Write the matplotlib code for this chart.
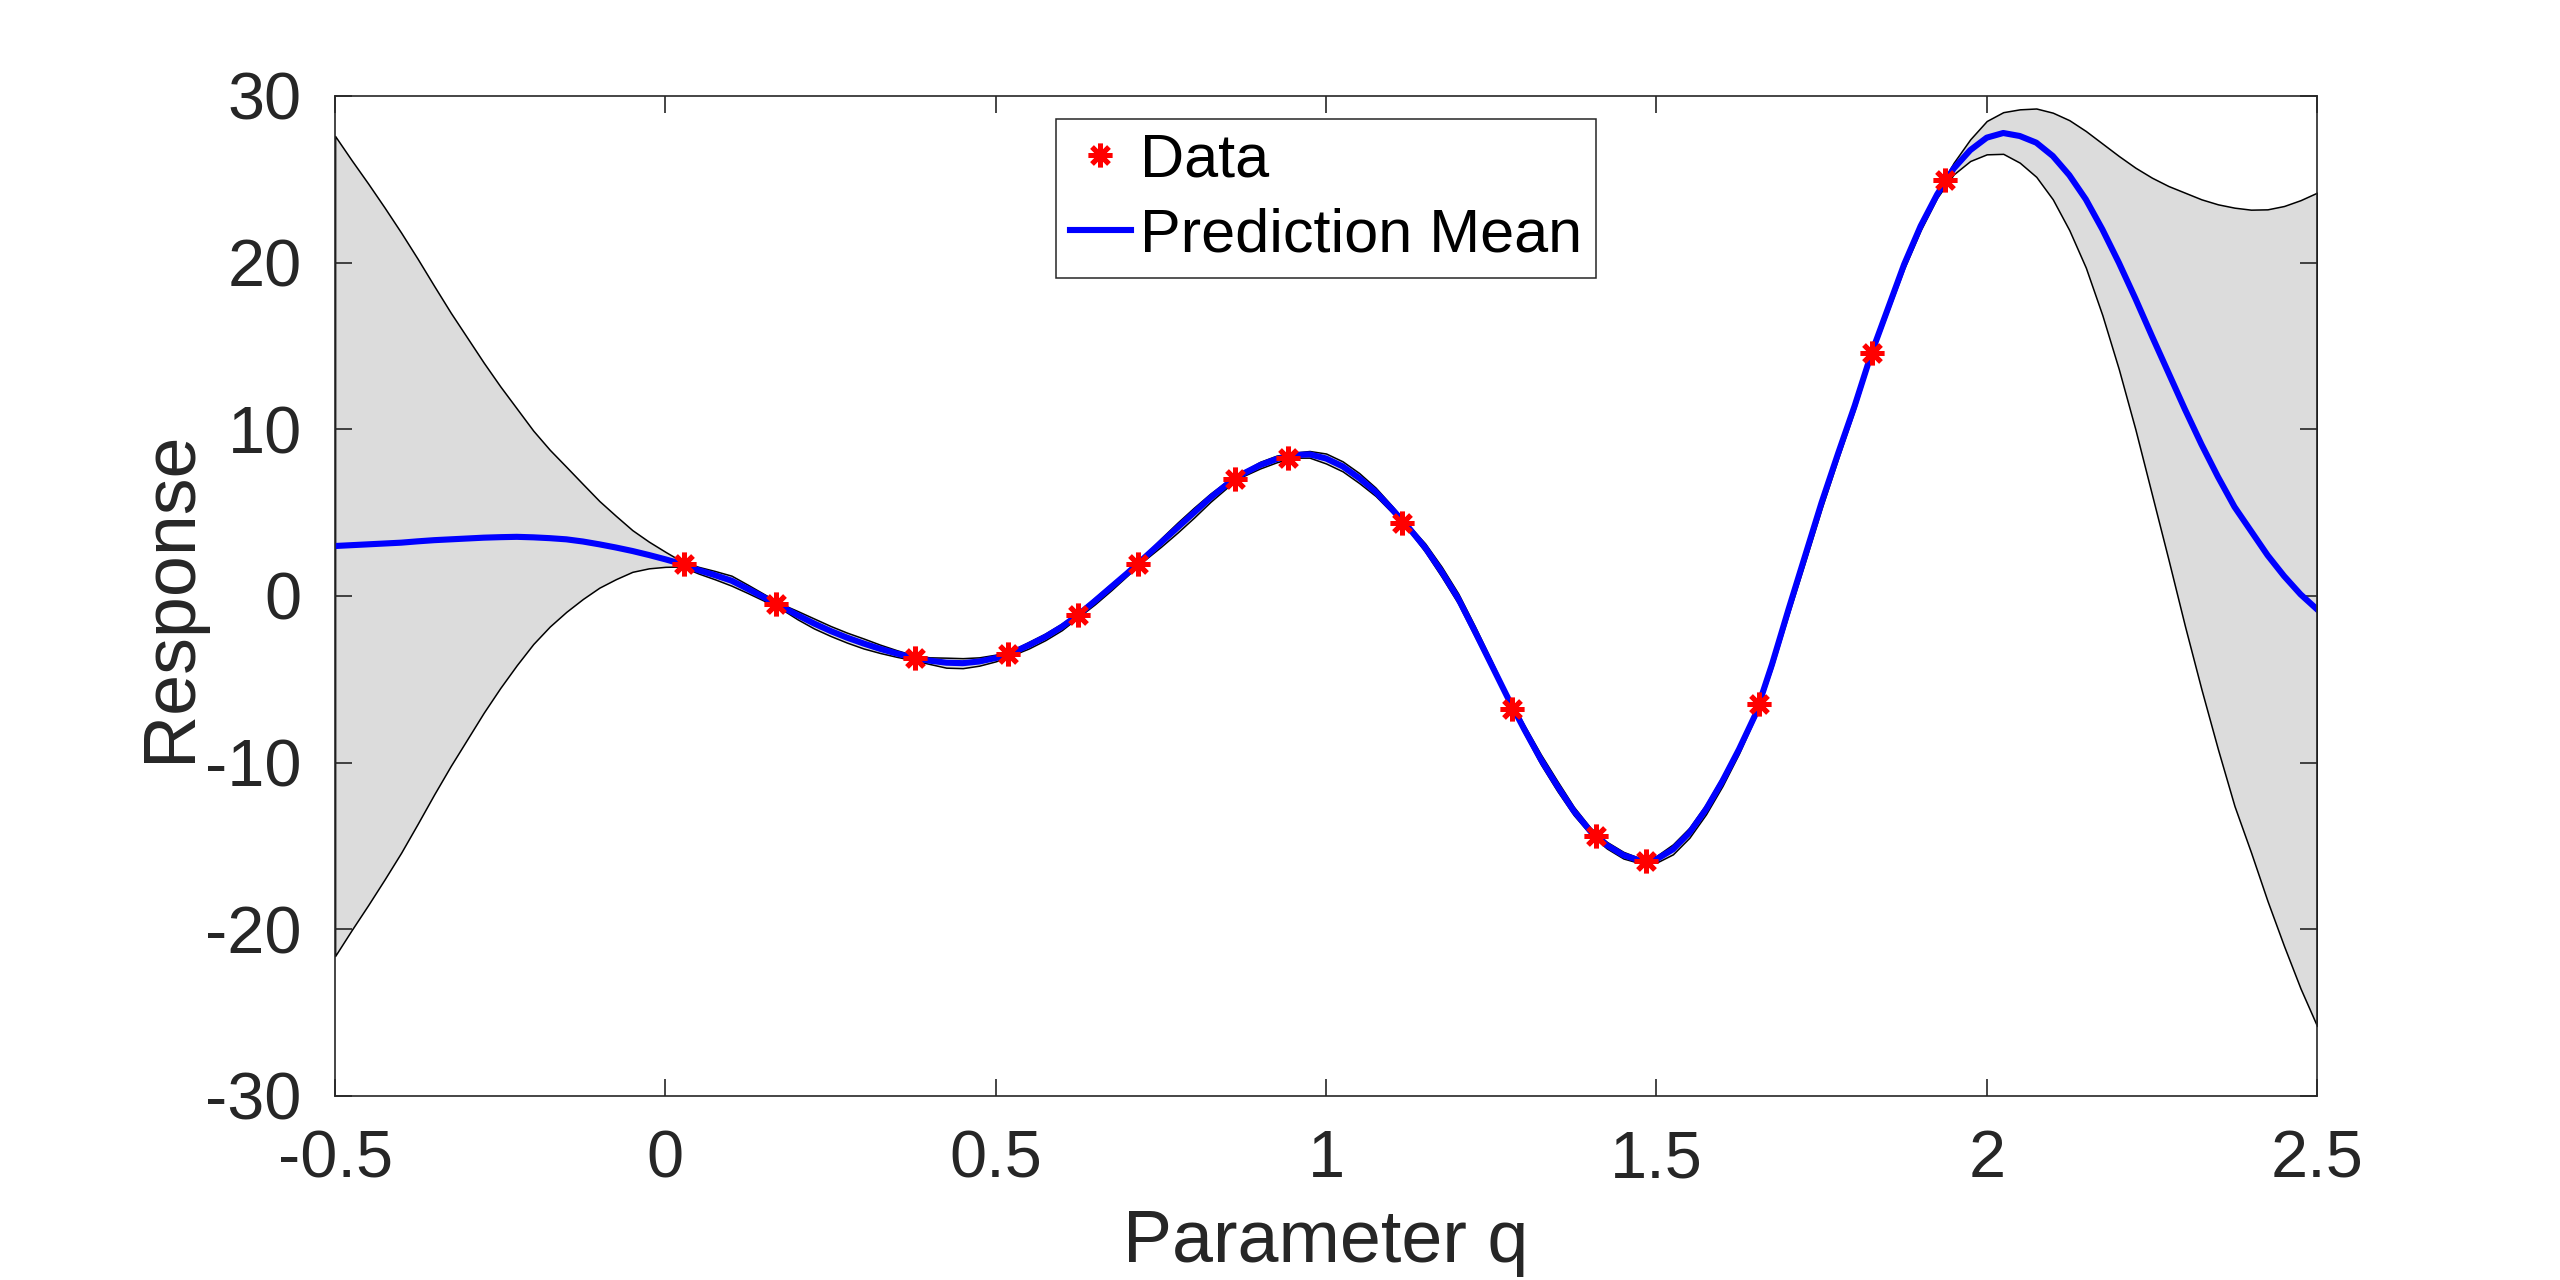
import numpy as np
import matplotlib
matplotlib.use('Agg')
import matplotlib.pyplot as plt

plt.rcParams['font.family'] = ['Liberation Sans', 'DejaVu Sans']
plt.rcParams['axes.unicode_minus'] = False

# observed data
q_data = [0.028, 0.168, 0.378, 0.519, 0.625, 0.715, 0.862, 0.942, 1.115,
          1.282, 1.409, 1.484, 1.656, 1.826, 1.937]
y_data = [1.9, -0.5, -3.7, -3.45, -1.15, 1.95, 7.05, 8.3, 4.4,
          -6.8, -14.4, -15.9, -6.45, 14.6, 24.95]

# prediction grid, step 0.025 from -0.5 to 2.5 (121 points)
q_grid = np.round(np.linspace(-0.5, 2.5, 121), 3)
mean_vals = [
    3.00, 3.05, 3.10, 3.15, 3.20, 3.28, 3.35, 3.40, 3.45, 3.50,      # -0.500 .. -0.275
    3.53, 3.55, 3.52, 3.47, 3.40, 3.27, 3.10, 2.91, 2.70, 2.46,      # -0.250 .. -0.025
    2.20, 1.92, 1.55, 1.25, 0.92, 0.42, -0.10, -0.62, -1.15, -1.65,  # 0.000 .. 0.225
    -2.10, -2.50, -2.85, -3.17, -3.45, -3.70, -3.88, -4.00, -4.03, -3.93,  # 0.250 .. 0.475
    -3.72, -3.40, -2.95, -2.45, -1.85, -1.12, -0.30, 0.55, 1.40, 2.30,     # 0.500 .. 0.725
    3.20, 4.10, 5.00, 5.90, 6.70, 7.35, 7.85, 8.22, 8.45, 8.50,      # 0.750 .. 0.975
    8.25, 7.78, 7.08, 6.25, 5.20, 4.10, 2.90, 1.45, -0.15, -2.10,    # 1.000 .. 1.225
    -4.10, -6.10, -8.00, -9.80, -11.40, -12.90, -14.10, -14.95, -15.55, -15.88,  # 1.250 .. 1.475
    -15.80, -15.20, -14.20, -12.80, -11.10, -9.20, -7.10, -4.10, -0.80, 2.40,    # 1.500 .. 1.725
    5.60, 8.55, 11.40, 14.50, 17.20, 19.90, 22.20, 24.10, 25.65, 26.75,  # 1.750 .. 1.975
    27.50, 27.78, 27.60, 27.20, 26.40, 25.25, 23.80, 22.00, 20.00, 17.85,  # 2.000 .. 2.225
    15.60, 13.40, 11.20, 9.10, 7.15, 5.35, 3.90, 2.45, 1.20, 0.10,   # 2.250 .. 2.475
    -0.80,                                                            # 2.500
]
# half width of the shaded interval
half_width = [
    24.6, 23.1, 21.65, 20.15, 18.6, 16.95, 15.25, 13.6, 12.05, 10.5,
    9.05, 7.7, 6.4, 5.3, 4.35, 3.45, 2.6, 1.9, 1.25, 0.8,
    0.45, 0.15, 0.2, 0.25, 0.3, 0.25, 0.2, 0.15, 0.25, 0.3,
    0.3, 0.3, 0.3, 0.25, 0.2, 0.15, 0.2, 0.3, 0.3, 0.25,
    0.2, 0.15, 0.2, 0.2, 0.2, 0.15, 0.2, 0.2, 0.15, 0.15,
    0.25, 0.3, 0.3, 0.25, 0.2, 0.15, 0.2, 0.2, 0.15, 0.2,
    0.3, 0.3, 0.3, 0.25, 0.2, 0.15, 0.25, 0.3, 0.3, 0.3,
    0.25, 0.15, 0.25, 0.3, 0.3, 0.25, 0.2, 0.2, 0.2, 0.15,
    0.2, 0.3, 0.3, 0.3, 0.3, 0.25, 0.15, 0.25, 0.3, 0.35,
    0.35, 0.3, 0.25, 0.15, 0.2, 0.25, 0.25, 0.2, 0.35, 0.65,
    1.0, 1.25, 1.6, 2.05, 2.6, 3.3, 4.1, 5.15, 6.4, 7.85,
    9.5, 11.2, 13.0, 14.7, 16.35, 17.95, 19.28, 20.75, 22.2, 23.65,
    25.0,
]

x_ticks = [-0.5, 0, 0.5, 1, 1.5, 2, 2.5]
x_tick_labels = ['-0.5', '0', '0.5', '1', '1.5', '2', '2.5']
y_ticks = [-30, -20, -10, 0, 10, 20, 30]

ink = '#262626'

mean = np.array(mean_vals)
hw = np.array(half_width)

fig = plt.figure(figsize=(12.8, 6.4), dpi=200)
ax = fig.add_axes([0.1309, 0.14375, 0.7742, 0.78125])

ax.fill_between(q_grid, mean - hw, mean + hw, facecolor='#dcdcdc',
                edgecolor='black', linewidth=0.55, zorder=1)
line, = ax.plot(q_grid, mean, color='#0000ff', linewidth=2.2, zorder=2,
                label='Prediction Mean')
pts, = ax.plot(q_data, y_data, linestyle='none', marker=(8, 2, 0),
               markersize=8.5, markeredgewidth=1.8, color='#ff0000',
               zorder=3, label='Data')

ax.set_xlim(-0.5, 2.5)
ax.set_ylim(-30, 30)
ax.set_xticks(x_ticks)
ax.set_xticklabels(x_tick_labels)
ax.set_yticks(y_ticks)
ax.tick_params(direction='in', length=6, width=0.6, top=True, right=True,
               labelsize=24, colors=ink, pad=12)
for s in ax.spines.values():
    s.set_linewidth(0.6)
    s.set_color(ink)

ax.set_xlabel('Parameter q', fontsize=26.5, color=ink, labelpad=6)
ax.set_ylabel('Response', fontsize=26.5, color=ink, labelpad=0)

leg = ax.legend(handles=[pts, line], loc='upper center',
                bbox_to_anchor=(0.5, 0.977), borderaxespad=0,
                fontsize=22, handlelength=1.0, handletextpad=0.15,
                borderpad=0.22, labelspacing=0.3, fancybox=False,
                framealpha=1, edgecolor=ink)
leg.get_frame().set_linewidth(0.55)

fig.savefig('out.png', dpi=200)
